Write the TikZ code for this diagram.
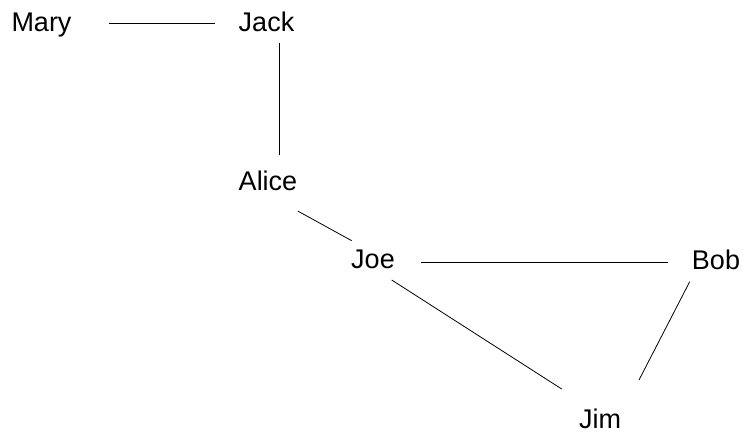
\documentclass[tikz,border=0pt]{standalone}
\usepackage{fontspec}
\setmainfont{Liberation Sans}
\begin{document}
\begin{tikzpicture}[x=1bp,y=-1bp,
  person/.style={anchor=base,inner sep=0pt,font=\fontsize{27bp}{32bp}\selectfont},
  link/.style={draw=black,line width=0.8pt}]
\useasboundingbox (0,0) rectangle (745,435);
\node[person] (mary)  at (41.5,32)  {Mary};
\node[person] (jack)  at (266.5,32) {Jack};
\node[person] (alice) at (268,191)  {Alice};
\node[person] (joe)   at (373,269)  {Joe};
\node[person] (bob)   at (716,270)  {Bob};
\node[person] (jim)   at (600,428)  {Jim};
\draw[link] ([shift={(67.5,-9)}]mary.base) -- ([shift={(-51.5,-9)}]jack.base);
\draw[link] ([shift={(12.8,11)}]jack.base) -- ([shift={(11.3,-36)}]alice.base);
\draw[link] ([shift={(29.7,20)}]alice.base) -- ([shift={(-21.3,-28.3)}]joe.base);
\draw[link] ([shift={(48,-7)}]joe.base) -- ([shift={(-47.7,-8)}]bob.base);
\draw[link] ([shift={(18.7,11)}]joe.base) -- ([shift={(-38.3,-39)}]jim.base);
\draw[link] ([shift={(-26.3,11.7)}]bob.base) -- ([shift={(39,-48)}]jim.base);
\end{tikzpicture}
\end{document}
